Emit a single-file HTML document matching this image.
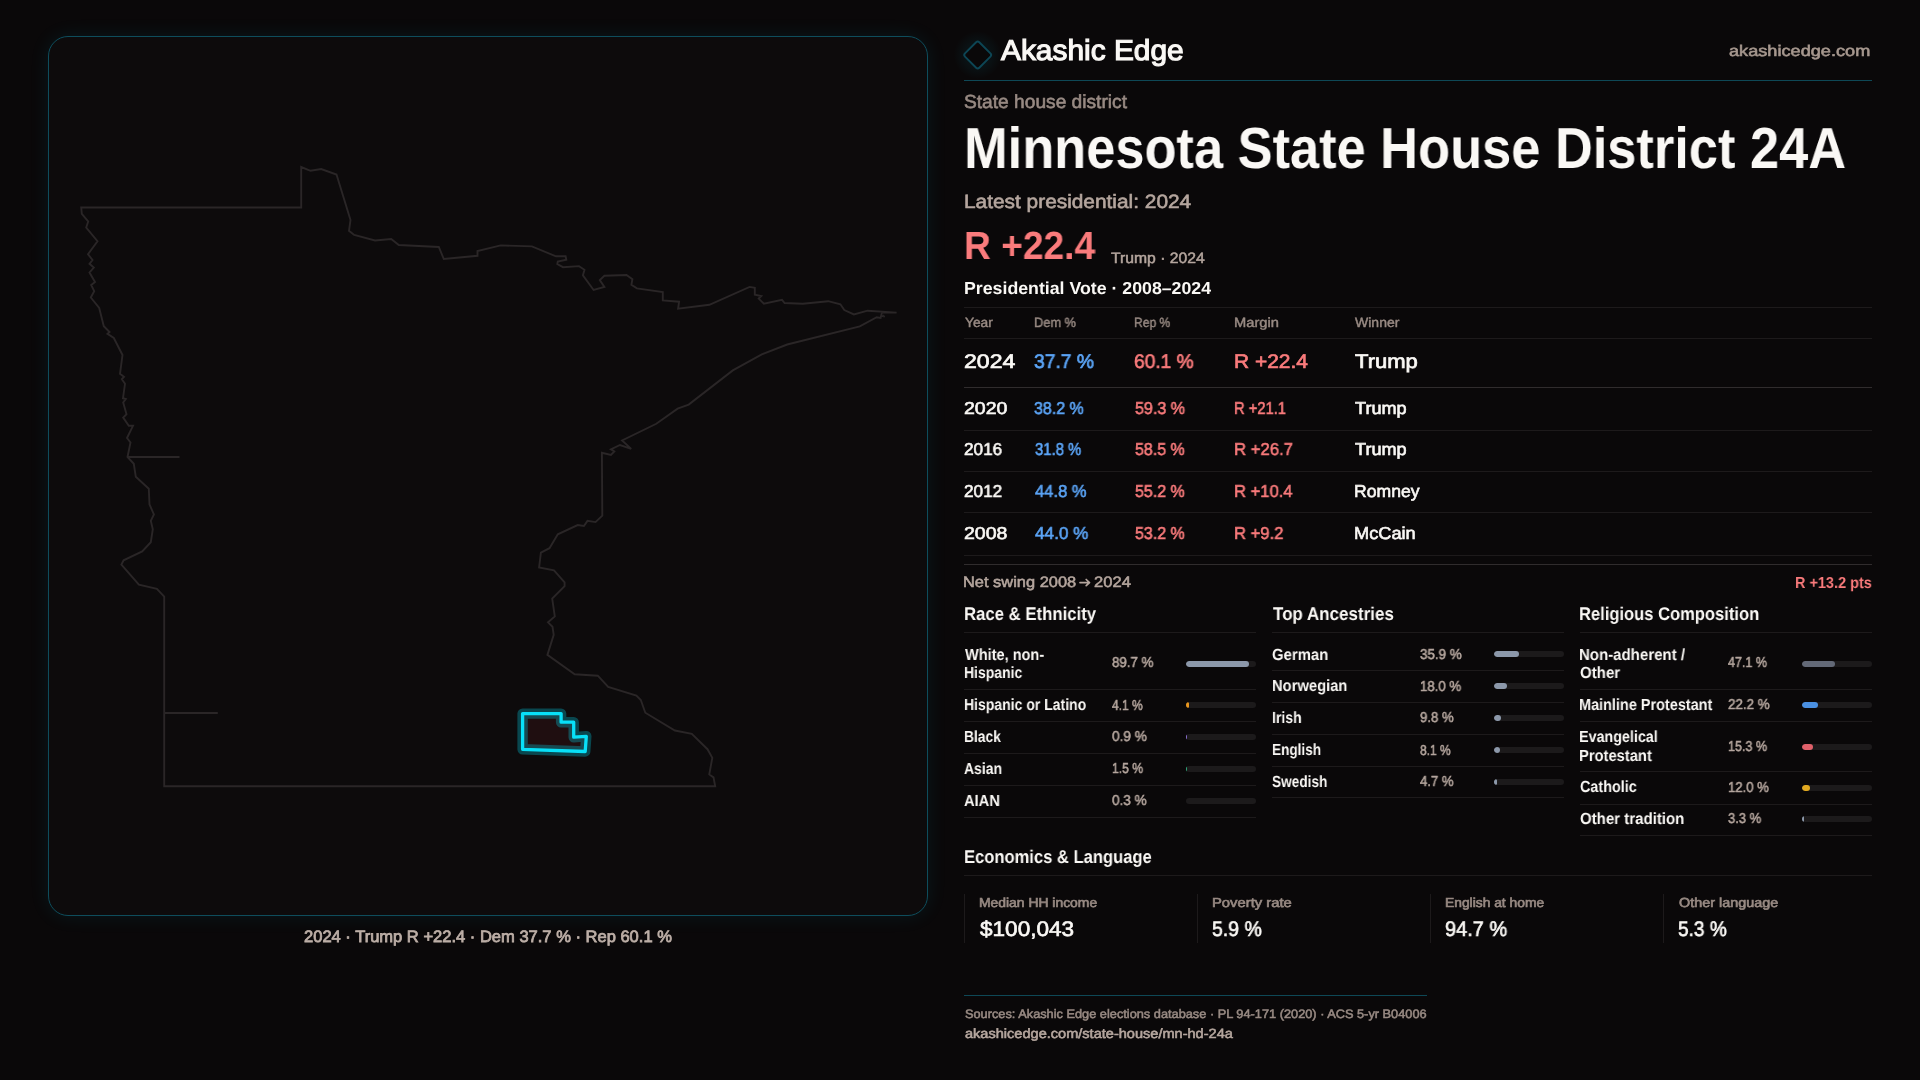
<!DOCTYPE html>
<html lang="en"><head><meta charset="utf-8"><title>Minnesota State House District 24A</title>
<style>
html,body{margin:0;padding:0}
body{width:1920px;height:1080px;overflow:hidden;background:#0a0809;position:relative;font-family:"Liberation Sans",sans-serif}
.t{position:absolute;white-space:pre;transform-origin:0 0;line-height:1;will-change:transform;text-rendering:geometricPrecision}
.l{position:absolute;height:1px;background:#1d1a1b}
.v{position:absolute;width:1px;background:#1d1a1b}
.tr{position:absolute;height:6px;border-radius:3px;background:#1c1a1b;width:70px;overflow:hidden}
.tr i{display:block;height:6px;border-radius:3px}
#panel{position:absolute;left:48px;top:36px;width:878px;height:878px;border:1px solid #0e4d5c;border-radius:20px;background:#0d0b0c;box-shadow:0 0 20px rgba(0,200,230,0.09)}
svg{position:absolute;left:0;top:0}
</style></head><body>
<div id="panel"></div>
<svg width="1920" height="1080" viewBox="0 0 1920 1080">
<defs><radialGradient id="dg"><stop offset="0" stop-color="#00c8e6" stop-opacity="0.10"/><stop offset="0.55" stop-color="#00c8e6" stop-opacity="0.05"/><stop offset="1" stop-color="#00c8e6" stop-opacity="0"/></radialGradient></defs>
<path d="M81.2,207.5 L81.8,213.8 L88.2,221.5 L86.2,227.5 L97.5,241.2 L88.0,254.2 L92.5,260.0 L89.5,263.8 L93.8,267.5 L89.5,272.5 L95.0,282.0 L91.2,285.0 L94.2,291.2 L90.8,297.5 L99.2,308.0 L103.8,326.2 L109.5,332.0 L107.5,333.8 L113.8,338.0 L122.5,355.0 L120.0,373.8 L124.0,376.8 L121.8,379.2 L125.0,383.8 L123.0,398.2 L125.8,399.0 L123.2,402.5 L126.5,414.2 L123.2,417.5 L128.8,425.8 L133.0,425.8 L127.0,438.0 L130.5,442.5 L127.5,457.0 L133.8,463.8 L135.8,476.8 L148.8,488.8 L149.5,504.5 L153.9,514.4 L150.8,520.8 L152.8,529.2 L150.8,542.2 L142.2,551.4 L123.6,560.3 L121.4,564.7 L138.9,584.7 L156.9,588.9 L164.2,596.7 L164.2,786.2 L715.2,786.2 L713.5,777.4 L709.3,774.4 L712.3,757.8 L707.5,749.2 L691.8,733.8 L674.9,730.5 L645.3,712.7 L640.8,700.0 L636.4,695.5 L608.2,686.9 L597.8,675.7 L574.7,674.2 L547.4,654.9 L553.7,634.8 L552.5,626.8 L548.0,622.3 L554.8,616.4 L552.2,598.6 L564.6,586.1 L564.6,582.3 L554.0,570.4 L539.1,567.5 L540.9,552.6 L549.5,548.2 L557.8,534.3 L577.7,525.1 L583.9,526.0 L587.5,520.9 L595.5,522.1 L602.3,515.6 L601.9,452.8 L610.9,454.9 L614.3,451.5 L610.9,449.4 L620.0,445.0 L631.2,448.9 L622.1,440.4 L656.3,423.8 L677.6,408.7 L688.7,404.6 L732.8,370.4 L761.8,354.3 L787.2,344.5 L859.8,326.3 L876.7,317.2 L880.6,318.0 L881.9,312.6 L896.6,312.6 L867.6,310.7 L853.9,314.4 L844.3,310.0 L840.4,304.3 L828.2,301.2 L802.8,303.7 L784.6,303.0 L782.0,299.9 L763.9,303.7 L758.7,298.6 L761.3,296.0 L754.8,294.7 L754.8,287.9 L749.6,286.9 L709.4,304.8 L678.1,308.7 L679.1,301.7 L662.8,300.4 L662.8,292.1 L636.9,288.4 L631.4,284.8 L632.4,279.1 L626.5,275.0 L604.4,275.7 L599.8,280.1 L604.4,286.9 L593.6,290.0 L582.9,275.2 L584.5,269.8 L579.0,266.1 L563.0,267.2 L557.3,264.1 L557.8,261.5 L566.3,259.7 L565.6,256.3 L556.0,256.3 L531.9,246.4 L500.7,245.4 L477.5,251.0 L477.5,255.8 L443.8,259.0 L438.8,247.0 L398.8,245.0 L391.2,239.0 L375.0,240.5 L354.2,235.0 L349.0,230.8 L350.5,220.0 L336.5,174.5 L321.2,169.0 L310.5,170.8 L301.2,167.0 L301.2,207.5 Z" fill="none" stroke="#2a2627" stroke-width="1.9" stroke-linejoin="miter" stroke-miterlimit="3"/>
<path d="M127.5,457 L179.5,457 M164.2,713 L217.8,713" fill="none" stroke="#2a2627" stroke-width="1.9"/>
<path d="M881.5,316.2 L884.5,317 L883.8,315.2 Z" fill="none" stroke="#2b2829" stroke-width="1"/>
<path d="M522.6,713.6 L561.1,713.6 L561.1,722.2 L573.7,722.2 L573.7,737.2 L586.3,736.3 L585.2,751.5 L522.6,749.3 Z" fill="#1f0e10" stroke="#00e5ff" stroke-opacity="0.28" stroke-width="10.4" stroke-linejoin="round"/>
<path d="M522.6,713.6 L561.1,713.6 L561.1,722.2 L573.7,722.2 L573.7,737.2 L586.3,736.3 L585.2,751.5 L522.6,749.3 Z" fill="none" stroke="#08e0f8" stroke-width="3.3" stroke-linejoin="round"/>
<circle cx="977.7" cy="55" r="24" fill="url(#dg)"/><g transform="translate(977.7,55) rotate(45)"><rect x="-10.1" y="-10.1" width="20.2" height="20.2" rx="2.2" fill="#0a0809" stroke="#0d4655" stroke-width="1.9"/></g>
<path d="M1080,582.6 H1089.4 M1086.2,579.5 L1089.5,582.6 L1086.2,585.7" fill="none" stroke="#b5a69e" stroke-width="1.7" stroke-linecap="round" stroke-linejoin="round"/>
</svg>

<div class="l" style="left:964px;top:80px;width:908px;background:#0e4856;"></div>
<div class="l" style="left:964px;top:307px;width:908px;"></div>
<div class="l" style="left:964px;top:338px;width:908px;"></div>
<div class="l" style="left:964px;top:387px;width:908px;background:#302c2d;"></div>
<div class="l" style="left:964px;top:430px;width:908px;"></div>
<div class="l" style="left:964px;top:471px;width:908px;"></div>
<div class="l" style="left:964px;top:512px;width:908px;"></div>
<div class="l" style="left:964px;top:555px;width:908px;"></div>
<div class="l" style="left:964px;top:564px;width:908px;background:#302c2d;"></div>
<div class="l" style="left:964px;top:632px;width:292px;"></div>
<div class="l" style="left:1272px;top:632px;width:292px;"></div>
<div class="l" style="left:1580px;top:632px;width:292px;"></div>
<div class="l" style="left:964px;top:689px;width:292px;"></div>
<div class="l" style="left:964px;top:721px;width:292px;"></div>
<div class="l" style="left:964px;top:753px;width:292px;"></div>
<div class="l" style="left:964px;top:785px;width:292px;"></div>
<div class="l" style="left:964px;top:817px;width:292px;"></div>
<div class="l" style="left:1272px;top:670px;width:292px;"></div>
<div class="l" style="left:1272px;top:702px;width:292px;"></div>
<div class="l" style="left:1272px;top:734px;width:292px;"></div>
<div class="l" style="left:1272px;top:766px;width:292px;"></div>
<div class="l" style="left:1272px;top:797px;width:292px;"></div>
<div class="l" style="left:1580px;top:689px;width:292px;"></div>
<div class="l" style="left:1580px;top:721px;width:292px;"></div>
<div class="l" style="left:1580px;top:771px;width:292px;"></div>
<div class="l" style="left:1580px;top:804px;width:292px;"></div>
<div class="l" style="left:1580px;top:835px;width:292px;"></div>
<div class="tr" style="left:1186px;top:661.00px"><i style="width:62.8px;background:#8c98aa"></i></div>
<div class="tr" style="left:1186px;top:702.00px"><i style="width:2.9px;background:#e8961e"></i></div>
<div class="tr" style="left:1186px;top:734.00px"><i style="width:0.9px;background:#8a6fd1"></i></div>
<div class="tr" style="left:1186px;top:765.80px"><i style="width:1.0px;background:#2fa87a"></i></div>
<div class="tr" style="left:1186px;top:797.80px"><i style="width:0.0px;background:#555"></i></div>
<div class="tr" style="left:1494px;top:650.80px"><i style="width:25.1px;background:#8c98aa"></i></div>
<div class="tr" style="left:1494px;top:682.80px"><i style="width:12.6px;background:#8c98aa"></i></div>
<div class="tr" style="left:1494px;top:715.00px"><i style="width:6.9px;background:#8c98aa"></i></div>
<div class="tr" style="left:1494px;top:747.00px"><i style="width:5.7px;background:#8c98aa"></i></div>
<div class="tr" style="left:1494px;top:779.00px"><i style="width:3.3px;background:#8c98aa"></i></div>
<div class="tr" style="left:1802px;top:660.80px"><i style="width:33.0px;background:#636977"></i></div>
<div class="tr" style="left:1802px;top:702.00px"><i style="width:15.5px;background:#4a90e2"></i></div>
<div class="tr" style="left:1802px;top:744.00px"><i style="width:10.7px;background:#e0606a"></i></div>
<div class="tr" style="left:1802px;top:785.00px"><i style="width:8.4px;background:#e0a820"></i></div>
<div class="tr" style="left:1802px;top:816.30px"><i style="width:2.3px;background:#8c98aa"></i></div>
<div class="l" style="left:964px;top:875px;width:908px;"></div>
<div class="v" style="left:964px;top:894px;height:49px"></div>
<div class="v" style="left:1197px;top:894px;height:49px"></div>
<div class="v" style="left:1430px;top:894px;height:49px"></div>
<div class="v" style="left:1663px;top:894px;height:49px"></div>
<div class="l" style="left:964px;top:995px;width:463px;background:#0e4856;"></div>
<div class="t" style="left:1001.36px;top:37.15px;font:400 28.77px/1 'Liberation Sans',sans-serif;color:#faf8f5;-webkit-text-stroke:1.15px #faf8f5;transform:scaleX(1.0383)">Akashic Edge</div>
<div class="t" style="left:1729.31px;top:43.91px;font:400 15.36px/1 'Liberation Sans',sans-serif;color:#a7988f;-webkit-text-stroke:0.6px #a7988f;transform:scaleX(1.1818)">akashicedge.com</div>
<div class="t" style="left:964.33px;top:92.54px;font:400 18.99px/1 'Liberation Sans',sans-serif;color:#988a83;-webkit-text-stroke:0.6px #988a83;transform:scaleX(1.0095)">State house district</div>
<div class="t" style="left:964.34px;top:121.22px;font:700 57.97px/1 'Liberation Sans',sans-serif;color:#faf8f5;transform:scaleX(0.9037)">Minnesota State House District 24A</div>
<div class="t" style="left:963.94px;top:192.89px;font:400 19.28px/1 'Liberation Sans',sans-serif;color:#b5a69e;-webkit-text-stroke:0.6px #b5a69e;transform:scaleX(1.0822)">Latest presidential: 2024</div>
<div class="t" style="left:964.38px;top:226.61px;font:700 39.28px/1 'Liberation Sans',sans-serif;color:#fa7b7c;transform:scaleX(0.9464)">R +22.4</div>
<div class="t" style="left:1111.08px;top:250.62px;font:400 15.07px/1 'Liberation Sans',sans-serif;color:#b5a69e;-webkit-text-stroke:0.5px #b5a69e;transform:scaleX(1.0438)">Trump · 2024</div>
<div class="t" style="left:964.25px;top:279.71px;font:700 17.39px/1 'Liberation Sans',sans-serif;color:#faf8f5;transform:scaleX(1.0205)">Presidential Vote · 2008–2024</div>
<div class="t" style="left:964.61px;top:316.13px;font:400 13.41px/1 'Liberation Sans',sans-serif;color:#988a83;-webkit-text-stroke:0.45px #988a83;transform:scaleX(1.0262)">Year</div>
<div class="t" style="left:1034.22px;top:316.13px;font:400 13.41px/1 'Liberation Sans',sans-serif;color:#988a83;-webkit-text-stroke:0.45px #988a83;transform:scaleX(0.9542)">Dem %</div>
<div class="t" style="left:1134.26px;top:316.15px;font:400 13.41px/1 'Liberation Sans',sans-serif;color:#988a83;-webkit-text-stroke:0.45px #988a83;transform:scaleX(0.9017)">Rep %</div>
<div class="t" style="left:1234.10px;top:316.13px;font:400 13.41px/1 'Liberation Sans',sans-serif;color:#988a83;-webkit-text-stroke:0.45px #988a83;transform:scaleX(1.0968)">Margin</div>
<div class="t" style="left:1355.13px;top:316.13px;font:400 13.41px/1 'Liberation Sans',sans-serif;color:#988a83;-webkit-text-stroke:0.45px #988a83;transform:scaleX(1.0453)">Winner</div>
<div class="t" style="left:964.15px;top:353.18px;font:400 19.71px/1 'Liberation Sans',sans-serif;color:#faf8f5;-webkit-text-stroke:0.7px #faf8f5;transform:scaleX(1.1707)">2024</div>
<div class="t" style="left:1034.37px;top:353.18px;font:400 19.71px/1 'Liberation Sans',sans-serif;color:#5ba4f6;-webkit-text-stroke:0.7px #5ba4f6;transform:scaleX(0.9786)">37.7 %</div>
<div class="t" style="left:1134.19px;top:353.18px;font:400 19.71px/1 'Liberation Sans',sans-serif;color:#fa7b7c;-webkit-text-stroke:0.7px #fa7b7c;transform:scaleX(0.9733)">60.1 %</div>
<div class="t" style="left:1233.59px;top:353.18px;font:400 19.71px/1 'Liberation Sans',sans-serif;color:#fa7b7c;-webkit-text-stroke:0.7px #fa7b7c;transform:scaleX(1.0626)">R +22.4</div>
<div class="t" style="left:1354.73px;top:353.18px;font:400 19.71px/1 'Liberation Sans',sans-serif;color:#faf8f5;-webkit-text-stroke:0.7px #faf8f5;transform:scaleX(1.1188)">Trump</div>
<div class="t" style="left:964.02px;top:399.52px;font:400 17.25px/1 'Liberation Sans',sans-serif;color:#faf8f5;-webkit-text-stroke:0.6px #faf8f5;transform:scaleX(1.1319)">2020</div>
<div class="t" style="left:1034.49px;top:399.52px;font:400 17.25px/1 'Liberation Sans',sans-serif;color:#5ba4f6;-webkit-text-stroke:0.6px #5ba4f6;transform:scaleX(0.9282)">38.2 %</div>
<div class="t" style="left:1134.51px;top:399.52px;font:400 17.25px/1 'Liberation Sans',sans-serif;color:#fa7b7c;-webkit-text-stroke:0.6px #fa7b7c;transform:scaleX(0.9324)">59.3 %</div>
<div class="t" style="left:1233.85px;top:399.52px;font:400 17.25px/1 'Liberation Sans',sans-serif;color:#fa7b7c;-webkit-text-stroke:0.6px #fa7b7c;transform:scaleX(0.8548)">R +21.1</div>
<div class="t" style="left:1354.69px;top:399.52px;font:400 17.25px/1 'Liberation Sans',sans-serif;color:#faf8f5;-webkit-text-stroke:0.6px #faf8f5;transform:scaleX(1.0506)">Trump</div>
<div class="t" style="left:964.08px;top:440.62px;font:400 17.25px/1 'Liberation Sans',sans-serif;color:#faf8f5;-webkit-text-stroke:0.6px #faf8f5;transform:scaleX(0.9942)">2016</div>
<div class="t" style="left:1034.51px;top:440.62px;font:400 17.25px/1 'Liberation Sans',sans-serif;color:#5ba4f6;-webkit-text-stroke:0.6px #5ba4f6;transform:scaleX(0.8621)">31.8 %</div>
<div class="t" style="left:1134.51px;top:440.62px;font:400 17.25px/1 'Liberation Sans',sans-serif;color:#fa7b7c;-webkit-text-stroke:0.6px #fa7b7c;transform:scaleX(0.9277)">58.5 %</div>
<div class="t" style="left:1233.73px;top:440.62px;font:400 17.25px/1 'Liberation Sans',sans-serif;color:#fa7b7c;-webkit-text-stroke:0.6px #fa7b7c;transform:scaleX(0.9692)">R +26.7</div>
<div class="t" style="left:1354.69px;top:440.62px;font:400 17.25px/1 'Liberation Sans',sans-serif;color:#faf8f5;-webkit-text-stroke:0.6px #faf8f5;transform:scaleX(1.0506)">Trump</div>
<div class="t" style="left:964.08px;top:482.62px;font:400 17.25px/1 'Liberation Sans',sans-serif;color:#faf8f5;-webkit-text-stroke:0.6px #faf8f5;transform:scaleX(0.9940)">2012</div>
<div class="t" style="left:1034.68px;top:482.62px;font:400 17.25px/1 'Liberation Sans',sans-serif;color:#5ba4f6;-webkit-text-stroke:0.6px #5ba4f6;transform:scaleX(0.9621)">44.8 %</div>
<div class="t" style="left:1134.51px;top:482.62px;font:400 17.25px/1 'Liberation Sans',sans-serif;color:#fa7b7c;-webkit-text-stroke:0.6px #fa7b7c;transform:scaleX(0.9277)">55.2 %</div>
<div class="t" style="left:1233.74px;top:482.62px;font:400 17.25px/1 'Liberation Sans',sans-serif;color:#fa7b7c;-webkit-text-stroke:0.6px #fa7b7c;transform:scaleX(0.9616)">R +10.4</div>
<div class="t" style="left:1353.67px;top:482.62px;font:400 17.25px/1 'Liberation Sans',sans-serif;color:#faf8f5;-webkit-text-stroke:0.6px #faf8f5;transform:scaleX(1.0196)">Romney</div>
<div class="t" style="left:964.02px;top:524.62px;font:400 17.25px/1 'Liberation Sans',sans-serif;color:#faf8f5;-webkit-text-stroke:0.6px #faf8f5;transform:scaleX(1.1329)">2008</div>
<div class="t" style="left:1034.68px;top:524.62px;font:400 17.25px/1 'Liberation Sans',sans-serif;color:#5ba4f6;-webkit-text-stroke:0.6px #5ba4f6;transform:scaleX(0.9950)">44.0 %</div>
<div class="t" style="left:1134.51px;top:524.62px;font:400 17.25px/1 'Liberation Sans',sans-serif;color:#fa7b7c;-webkit-text-stroke:0.6px #fa7b7c;transform:scaleX(0.9277)">53.2 %</div>
<div class="t" style="left:1233.74px;top:524.62px;font:400 17.25px/1 'Liberation Sans',sans-serif;color:#fa7b7c;-webkit-text-stroke:0.6px #fa7b7c;transform:scaleX(0.9629)">R +9.2</div>
<div class="t" style="left:1353.63px;top:524.62px;font:400 17.25px/1 'Liberation Sans',sans-serif;color:#faf8f5;-webkit-text-stroke:0.6px #faf8f5;transform:scaleX(1.0556)">McCain</div>
<div class="t" style="left:963.45px;top:574.63px;font:400 15.14px/1 'Liberation Sans',sans-serif;color:#b5a69e;-webkit-text-stroke:0.55px #b5a69e;transform:scaleX(1.0854)">Net swing 2008</div>
<div class="t" style="left:1094.26px;top:574.63px;font:400 15.14px/1 'Liberation Sans',sans-serif;color:#b5a69e;-webkit-text-stroke:0.55px #b5a69e;transform:scaleX(1.0949)">2024</div>
<div class="t" style="left:1794.85px;top:575.95px;font:700 15.94px/1 'Liberation Sans',sans-serif;color:#fa7b7c;transform:scaleX(0.9074)">R +13.2 pts</div>
<div class="t" style="left:963.91px;top:605.44px;font:700 18.41px/1 'Liberation Sans',sans-serif;color:#faf8f5;transform:scaleX(0.9090)">Race &amp; Ethnicity</div>
<div class="t" style="left:1272.84px;top:605.44px;font:700 18.41px/1 'Liberation Sans',sans-serif;color:#faf8f5;transform:scaleX(0.9228)">Top Ancestries</div>
<div class="t" style="left:1579.42px;top:605.44px;font:700 18.41px/1 'Liberation Sans',sans-serif;color:#faf8f5;transform:scaleX(0.8990)">Religious Composition</div>
<div class="t" style="left:964.79px;top:646.95px;font:700 16.09px/1 'Liberation Sans',sans-serif;color:#faf8f5;transform:scaleX(0.9046)">White, non-</div>
<div class="t" style="left:963.98px;top:665.45px;font:700 16.09px/1 'Liberation Sans',sans-serif;color:#faf8f5;transform:scaleX(0.8702)">Hispanic</div>
<div class="t" style="left:1112.17px;top:656.32px;font:400 14.42px/1 'Liberation Sans',sans-serif;color:#b5a69e;-webkit-text-stroke:0.55px #b5a69e;transform:scaleX(0.9234)">89.7 %</div>
<div class="t" style="left:964.22px;top:697.45px;font:700 16.09px/1 'Liberation Sans',sans-serif;color:#faf8f5;transform:scaleX(0.8715)">Hispanic or Latino</div>
<div class="t" style="left:1112.32px;top:698.84px;font:400 14.42px/1 'Liberation Sans',sans-serif;color:#b5a69e;-webkit-text-stroke:0.55px #b5a69e;transform:scaleX(0.8345)">4.1 %</div>
<div class="t" style="left:963.99px;top:728.95px;font:700 16.09px/1 'Liberation Sans',sans-serif;color:#faf8f5;transform:scaleX(0.8599)">Black</div>
<div class="t" style="left:1112.19px;top:730.33px;font:400 14.42px/1 'Liberation Sans',sans-serif;color:#b5a69e;-webkit-text-stroke:0.55px #b5a69e;transform:scaleX(0.9470)">0.9 %</div>
<div class="t" style="left:964.44px;top:760.95px;font:700 16.09px/1 'Liberation Sans',sans-serif;color:#faf8f5;transform:scaleX(0.8694)">Asian</div>
<div class="t" style="left:1111.75px;top:762.34px;font:400 14.42px/1 'Liberation Sans',sans-serif;color:#b5a69e;-webkit-text-stroke:0.55px #b5a69e;transform:scaleX(0.8432)">1.5 %</div>
<div class="t" style="left:964.42px;top:793.00px;font:700 16.09px/1 'Liberation Sans',sans-serif;color:#faf8f5;transform:scaleX(0.9135)">AIAN</div>
<div class="t" style="left:1112.19px;top:793.83px;font:400 14.42px/1 'Liberation Sans',sans-serif;color:#b5a69e;-webkit-text-stroke:0.55px #b5a69e;transform:scaleX(0.9402)">0.3 %</div>
<div class="t" style="left:1272.31px;top:647.02px;font:700 16.09px/1 'Liberation Sans',sans-serif;color:#faf8f5;transform:scaleX(0.9254)">German</div>
<div class="t" style="left:1420.12px;top:647.83px;font:400 14.42px/1 'Liberation Sans',sans-serif;color:#b5a69e;-webkit-text-stroke:0.55px #b5a69e;transform:scaleX(0.9302)">35.9 %</div>
<div class="t" style="left:1271.93px;top:677.65px;font:700 16.09px/1 'Liberation Sans',sans-serif;color:#faf8f5;transform:scaleX(0.9170)">Norwegian</div>
<div class="t" style="left:1419.69px;top:680.08px;font:400 14.42px/1 'Liberation Sans',sans-serif;color:#b5a69e;-webkit-text-stroke:0.55px #b5a69e;transform:scaleX(0.9173)">18.0 %</div>
<div class="t" style="left:1271.97px;top:710.45px;font:700 16.09px/1 'Liberation Sans',sans-serif;color:#faf8f5;transform:scaleX(0.8706)">Irish</div>
<div class="t" style="left:1420.16px;top:711.33px;font:400 14.42px/1 'Liberation Sans',sans-serif;color:#b5a69e;-webkit-text-stroke:0.55px #b5a69e;transform:scaleX(0.9139)">9.8 %</div>
<div class="t" style="left:1272.00px;top:742.45px;font:700 16.09px/1 'Liberation Sans',sans-serif;color:#faf8f5;transform:scaleX(0.8456)">English</div>
<div class="t" style="left:1420.19px;top:743.84px;font:400 14.42px/1 'Liberation Sans',sans-serif;color:#b5a69e;-webkit-text-stroke:0.55px #b5a69e;transform:scaleX(0.8312)">8.1 %</div>
<div class="t" style="left:1272.36px;top:774.45px;font:700 16.09px/1 'Liberation Sans',sans-serif;color:#faf8f5;transform:scaleX(0.8478)">Swedish</div>
<div class="t" style="left:1420.31px;top:775.33px;font:400 14.42px/1 'Liberation Sans',sans-serif;color:#b5a69e;-webkit-text-stroke:0.55px #b5a69e;transform:scaleX(0.9096)">4.7 %</div>
<div class="t" style="left:1579.41px;top:647.02px;font:700 16.09px/1 'Liberation Sans',sans-serif;color:#faf8f5;transform:scaleX(0.9342)">Non-adherent /</div>
<div class="t" style="left:1579.81px;top:665.46px;font:700 16.09px/1 'Liberation Sans',sans-serif;color:#faf8f5;transform:scaleX(0.9370)">Other</div>
<div class="t" style="left:1728.32px;top:656.34px;font:400 14.42px/1 'Liberation Sans',sans-serif;color:#b5a69e;-webkit-text-stroke:0.55px #b5a69e;transform:scaleX(0.8698)">47.1 %</div>
<div class="t" style="left:1579.44px;top:697.42px;font:700 16.09px/1 'Liberation Sans',sans-serif;color:#faf8f5;transform:scaleX(0.8991)">Mainline Protestant</div>
<div class="t" style="left:1728.16px;top:698.32px;font:400 14.42px/1 'Liberation Sans',sans-serif;color:#b5a69e;-webkit-text-stroke:0.55px #b5a69e;transform:scaleX(0.9293)">22.2 %</div>
<div class="t" style="left:1579.45px;top:728.90px;font:700 16.09px/1 'Liberation Sans',sans-serif;color:#faf8f5;transform:scaleX(0.8897)">Evangelical</div>
<div class="t" style="left:1579.43px;top:747.95px;font:700 16.09px/1 'Liberation Sans',sans-serif;color:#faf8f5;transform:scaleX(0.9157)">Protestant</div>
<div class="t" style="left:1727.73px;top:740.09px;font:400 14.42px/1 'Liberation Sans',sans-serif;color:#b5a69e;-webkit-text-stroke:0.55px #b5a69e;transform:scaleX(0.8718)">15.3 %</div>
<div class="t" style="left:1579.84px;top:778.90px;font:700 16.09px/1 'Liberation Sans',sans-serif;color:#faf8f5;transform:scaleX(0.8946)">Catholic</div>
<div class="t" style="left:1727.70px;top:780.83px;font:400 14.42px/1 'Liberation Sans',sans-serif;color:#b5a69e;-webkit-text-stroke:0.55px #b5a69e;transform:scaleX(0.9116)">12.0 %</div>
<div class="t" style="left:1579.81px;top:810.96px;font:700 16.09px/1 'Liberation Sans',sans-serif;color:#faf8f5;transform:scaleX(0.9345)">Other tradition</div>
<div class="t" style="left:1728.13px;top:812.33px;font:400 14.42px/1 'Liberation Sans',sans-serif;color:#b5a69e;-webkit-text-stroke:0.55px #b5a69e;transform:scaleX(0.9011)">3.3 %</div>
<div class="t" style="left:963.92px;top:848.44px;font:700 18.41px/1 'Liberation Sans',sans-serif;color:#faf8f5;transform:scaleX(0.8995)">Economics &amp; Language</div>
<div class="t" style="left:979.27px;top:895.59px;font:400 13.12px/1 'Liberation Sans',sans-serif;color:#988a83;-webkit-text-stroke:0.65px #988a83;transform:scaleX(1.0596)">Median HH income</div>
<div class="t" style="left:979.93px;top:919.04px;font:400 21.09px/1 'Liberation Sans',sans-serif;color:#faf8f5;-webkit-text-stroke:0.65px #faf8f5;transform:scaleX(1.0707)">$100,043</div>
<div class="t" style="left:1211.73px;top:895.59px;font:400 13.12px/1 'Liberation Sans',sans-serif;color:#988a83;-webkit-text-stroke:0.65px #988a83;transform:scaleX(1.1290)">Poverty rate</div>
<div class="t" style="left:1211.89px;top:919.04px;font:400 21.09px/1 'Liberation Sans',sans-serif;color:#faf8f5;-webkit-text-stroke:0.65px #faf8f5;transform:scaleX(0.9231)">5.9 %</div>
<div class="t" style="left:1445.28px;top:895.59px;font:400 13.12px/1 'Liberation Sans',sans-serif;color:#988a83;-webkit-text-stroke:0.65px #988a83;transform:scaleX(1.0543)">English at home</div>
<div class="t" style="left:1445.39px;top:919.04px;font:400 21.09px/1 'Liberation Sans',sans-serif;color:#faf8f5;-webkit-text-stroke:0.65px #faf8f5;transform:scaleX(0.9460)">94.7 %</div>
<div class="t" style="left:1678.56px;top:895.59px;font:400 13.12px/1 'Liberation Sans',sans-serif;color:#988a83;-webkit-text-stroke:0.65px #988a83;transform:scaleX(1.0969)">Other language</div>
<div class="t" style="left:1678.15px;top:919.04px;font:400 21.09px/1 'Liberation Sans',sans-serif;color:#faf8f5;-webkit-text-stroke:0.65px #faf8f5;transform:scaleX(0.9042)">5.3 %</div>
<div class="t" style="left:964.60px;top:1008.06px;font:400 12.25px/1 'Liberation Sans',sans-serif;color:#988a83;-webkit-text-stroke:0.55px #988a83;transform:scaleX(1.0423)">Sources: Akashic Edge elections database · PL 94-171 (2020) · ACS 5-yr B04006</div>
<div class="t" style="left:964.79px;top:1027.19px;font:400 13.33px/1 'Liberation Sans',sans-serif;color:#b5a69e;-webkit-text-stroke:0.6px #b5a69e;transform:scaleX(1.0921)">akashicedge.com/state-house/mn-hd-24a</div>
<div class="t" style="left:304.41px;top:929.08px;font:400 16.52px/1 'Liberation Sans',sans-serif;color:#bcaea6;-webkit-text-stroke:0.8px #bcaea6;transform:scaleX(1.0006)">2024 · Trump R +22.4 · Dem 37.7 % · Rep 60.1 %</div>
</body></html>
